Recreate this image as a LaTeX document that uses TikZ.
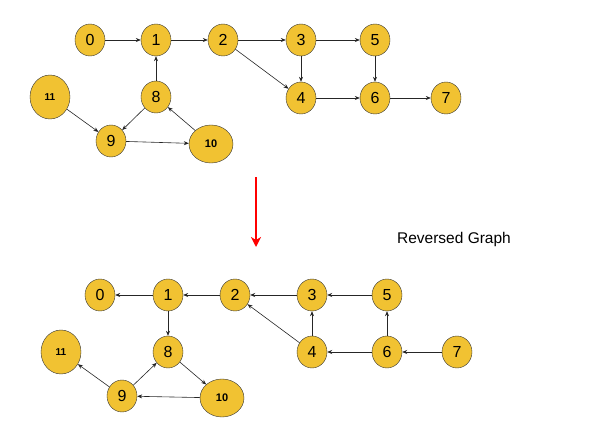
\documentclass[tikz,border=0pt]{standalone}
\usepackage{fontspec}
\setmainfont{Liberation Sans}
\usetikzlibrary{shapes.geometric,arrows.meta}
\definecolor{gold}{RGB}{241,194,50}

\begin{document}
\begin{tikzpicture}[x=1pt,y=-1pt,->,>={Stealth[length=5pt,width=4pt]},
  vertex/.style={ellipse,fill=gold,draw=black!80,thin,inner sep=0pt,
    minimum width=30pt,minimum height=32pt,font=\fontsize{16}{16}\selectfont},
  wide/.style={vertex,minimum width=40pt,minimum height=44pt,
    font=\fontsize{10}{10}\selectfont\bfseries},
  flat/.style={vertex,minimum width=44pt,minimum height=38pt,
    font=\fontsize{11}{11}\selectfont\bfseries},
  link/.style={draw=black!85,line width=0.6pt}]

  \useasboundingbox (0,0) rectangle (589,425);

  % original graph
  \node[vertex] (t0) at (90,40) {0};
  \node[vertex] (t1) at (156,40) {1};
  \node[vertex] (t2) at (223,40) {2};
  \node[vertex] (t3) at (301,40) {3};
  \node[vertex] (t5) at (375,40) {5};
  \node[vertex] (t4) at (301,98) {4};
  \node[vertex] (t6) at (375,98) {6};
  \node[vertex] (t7) at (446,98) {7};
  \node[vertex] (t8) at (156,97) {8};
  \node[wide]   (t11) at (50,97) {11};
  \node[vertex] (t9) at (111,141) {9};
  \node[flat]   (t10) at (211,144) {10};

  \path[link]
    (t0) edge (t1)
    (t1) edge (t2)
    (t2) edge (t3)
         edge (t4)
    (t3) edge (t5)
         edge (t4)
    (t5) edge (t6)
    (t4) edge (t6)
    (t6) edge (t7)
    (t8) edge (t1)
         edge (t9)
    (t11) edge (t9)
    (t9) edge (t10)
    (t10) edge (t8);

  % red arrow and caption
  \coordinate (ra) at (256,177);
  \coordinate (rb) at (256,247);
  \draw[red,line width=1.6pt,-{Stealth[length=10pt,width=10pt,inset=3pt]}] (ra) -- (rb);
  \node[font=\fontsize{15.5}{15.5}\selectfont] (cap) at (454,239) {Reversed Graph};

  % reversed graph
  \node[vertex] (r0) at (100,295) {0};
  \node[vertex] (r1) at (168,295) {1};
  \node[vertex] (r2) at (235,295) {2};
  \node[vertex] (r3) at (312,295) {3};
  \node[vertex] (r5) at (387,295) {5};
  \node[vertex] (r4) at (312,352) {4};
  \node[vertex] (r6) at (387,352) {6};
  \node[vertex] (r7) at (457,352) {7};
  \node[vertex] (r8) at (168,352) {8};
  \node[wide]   (r11) at (61,352) {11};
  \node[vertex] (r9) at (122,396) {9};
  \node[flat]   (r10) at (222,398) {10};

  \path[link]
    (r1) edge (r0)
         edge (r8)
    (r2) edge (r1)
    (r3) edge (r2)
    (r4) edge (r2)
         edge (r3)
    (r5) edge (r3)
    (r6) edge (r5)
         edge (r4)
    (r7) edge (r6)
    (r9) edge (r8)
         edge (r11)
    (r10) edge (r9)
    (r8) edge (r10);

\end{tikzpicture}
\end{document}
